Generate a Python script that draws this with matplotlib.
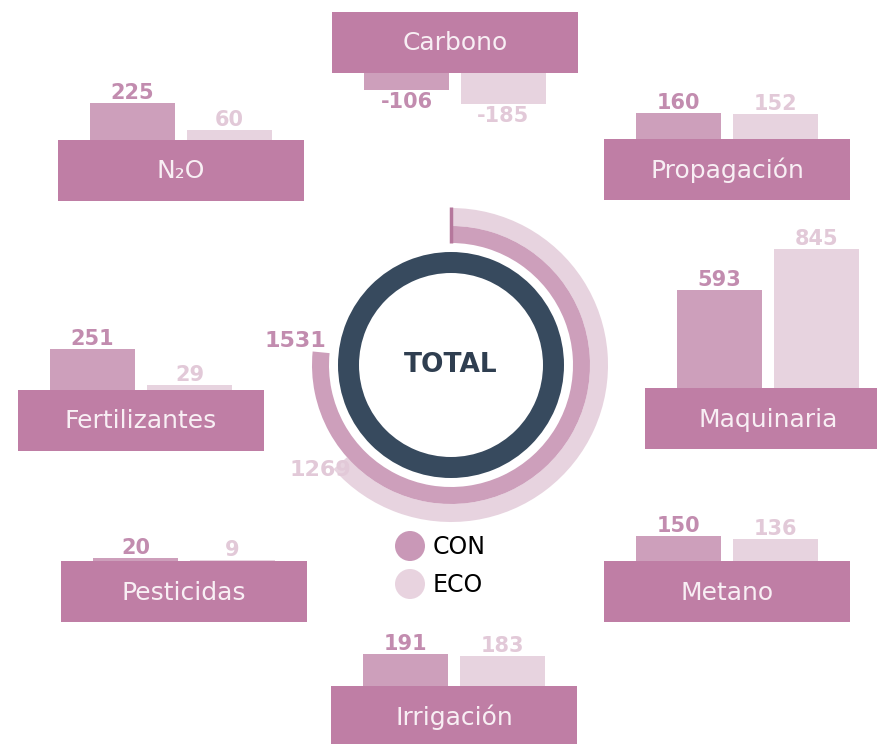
import matplotlib
matplotlib.use("Agg")
import matplotlib.pyplot as plt
from matplotlib.patches import Wedge, Circle, Rectangle

plt.rcParams['font.family'] = ['DejaVu Sans']

# data
categories = ['Carbono', 'N\u2082O', 'Propagación', 'Maquinaria',
              'Fertilizantes', 'Pesticidas', 'Metano', 'Irrigación']
con = [-106, 225, 160, 593, 251, 20, 150, 191]
eco = [-185, 60, 152, 845, 29, 9, 136, 183]
total_con = 1531
total_eco = 1269
series = ['CON', 'ECO']

# layout (pixel coords, top-left of each label box)
box_pos = [(332, 12), (58, 140), (604, 139), (645, 388),
           (18, 390), (61, 561), (604, 561), (331, 686)]
box_w, box_h = 246, 61
bar_w, bar_off, bar_gap = 85, 32, 12
px_per_unit = 0.165

box_col = '#bf7ea5'
con_col = '#cd9fbb'
eco_col = '#e7d3df'
con_txt = '#c28caf'
eco_txt = '#e2c9d8'
ring_col = '#374a5e'

fig = plt.figure(figsize=(8.77, 7.44), dpi=100)
ax = fig.add_axes([0, 0, 1, 1])
ax.set_xlim(0, 877)
ax.set_ylim(744, 0)
ax.set_aspect('equal')
ax.axis('off')

for name, c, e, (bx, by) in zip(categories, con, eco, box_pos):
    ax.add_patch(Rectangle((bx, by), box_w, box_h, color=box_col, zorder=2, lw=0))
    ax.text(bx + box_w / 2, by + box_h / 2 + 1, name, color='#f8eff4',
            fontsize=18, ha='center', va='center', zorder=3)
    for i, (v, col, tcol) in enumerate([(c, con_col, con_txt), (e, eco_col, eco_txt)]):
        x0 = bx + bar_off + i * (bar_w + bar_gap)
        base = by if v > 0 else by + box_h
        ax.bar(x0, -v * px_per_unit, width=bar_w, bottom=base, align='edge',
               color=col, zorder=1, lw=0)
        end = base - v * px_per_unit
        if v > 0:
            ax.text(x0 + bar_w / 2, end - 4, str(v), color=tcol, fontsize=15,
                    fontweight='bold', ha='center', va='baseline')
        else:
            ax.text(x0 + bar_w / 2, end + 2, str(v), color=tcol, fontsize=15,
                    fontweight='bold', ha='center', va='top')

# total rings
cx, cy = 451, 365
full = 2000
ax.add_patch(Wedge((cx, cy), 113, 0, 360, width=21, color=ring_col, lw=0))
ax.add_patch(Wedge((cx, cy), 157, -90, -90 + total_eco / full * 360,
                   width=18, color=eco_col, lw=0))
ax.add_patch(Wedge((cx, cy), 139, -90, -90 + total_con / full * 360,
                   width=17, color=con_col, lw=0))
ax.plot([cx, cx], [cy - 158, cy - 122], color='#b5779c', lw=2.5, solid_capstyle='butt')
ax.text(cx, cy, 'TOTAL', color='#2f3e50', fontsize=19, fontweight='bold',
        ha='center', va='center')
ax.text(326, 341, str(total_con), color=con_txt, fontsize=16, fontweight='bold',
        ha='right', va='center')
ax.text(351, 470, str(total_eco), color=eco_txt, fontsize=16, fontweight='bold',
        ha='right', va='center')

# legend
for i, (lab, col) in enumerate(zip(series, ['#c998b7', '#e8d3df'])):
    y = 546 + i * 38
    ax.add_patch(Circle((410, y), 15, color=col, lw=0))
    ax.text(433, y + 1, lab, color='black', fontsize=17, ha='left', va='center')

fig.savefig('out.png', dpi=100, facecolor='white')
